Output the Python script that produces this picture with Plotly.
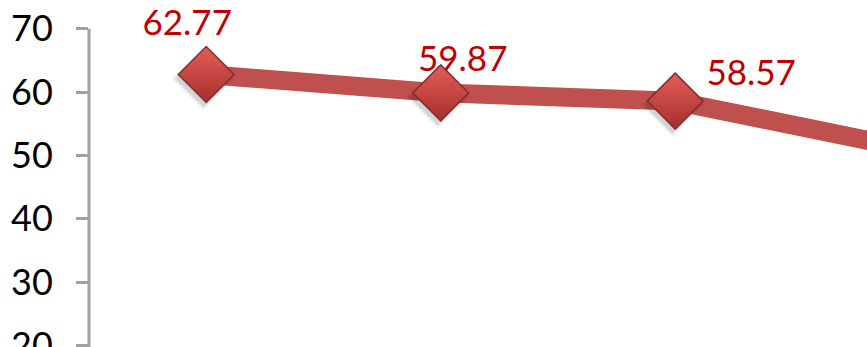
import plotly.graph_objects as go

# Series data
categories = ["A", "B", "C", "D"]
values = [62.77, 59.87, 58.57, 51.03]

# Value labels for the points inside the view, and their placement
# relative to each point in pixels (right, up)
n_labelled = 3
labels = [f"{v:.2f}" for v in values[:n_labelled]]
label_dx_px = [-19, 22, 76]
label_dy_px = [48, 31, 25]

# Axis scale
y_ticks = [20, 30, 40, 50, 60, 70]
y_axis_top = 70

W, H = 867, 347
M_L, M_R, M_T, M_B = 89, 0, 0, 0
x_range = [-0.5, 2.818]
y_range = [19.76, 74.53]

plot_w = W - M_L - M_R
plot_h = H - M_T - M_B
px_per_x = plot_w / (x_range[1] - x_range[0])
px_per_y = plot_h / (y_range[1] - y_range[0])

xs = list(range(len(categories)))
label_x = [x + dx / px_per_x for x, dx in zip(xs, label_dx_px)]
label_y = [v + dy / px_per_y for v, dy in zip(values, label_dy_px)]

LINE_RED = "#C0504D"
AXIS_GREY = "#A0A0A0"
FONT = "Lato"

fig = go.Figure()

# Thick connecting line
fig.add_trace(go.Scatter(
    x=xs, y=values, mode="lines",
    line=dict(color=LINE_RED, width=19),
    cliponaxis=False, hoverinfo="skip", showlegend=False,
))

# Value labels (drawn beneath the markers)
fig.add_trace(go.Scatter(
    x=label_x, y=label_y, mode="text", text=labels,
    textposition="middle center",
    textfont=dict(family=FONT, size=35, color="#C00000"),
    cliponaxis=False, hoverinfo="skip", showlegend=False,
))

# Soft shadow under the markers
for size, alpha in [(49, 0.04), (46, 0.06), (43, 0.08)]:
    fig.add_trace(go.Scatter(
        x=[x - 3 / px_per_x for x in xs], y=[v - 4 / px_per_y for v in values],
        mode="markers",
        marker=dict(symbol="diamond", size=size, color=f"rgba(0,0,0,{alpha})", line=dict(width=0)),
        cliponaxis=False, hoverinfo="skip", showlegend=False,
    ))

# Bevelled diamond markers
fig.add_trace(go.Scatter(
    x=xs, y=values, mode="markers", text=categories,
    marker=dict(
        symbol="diamond", size=43, color="#E45D59",
        gradient=dict(type="vertical", color="#A52F2B"),
        line=dict(color="#85302E", width=1.5),
    ),
    cliponaxis=False, showlegend=False,
))

# Value axis line, running from the bottom up to the top tick
fig.add_shape(
    type="line", xref="paper", yref="y",
    x0=0, x1=0, y0=y_range[0], y1=y_axis_top,
    line=dict(color=AXIS_GREY, width=3),
)

fig.update_layout(
    width=W, height=H,
    margin=dict(l=M_L, r=M_R, t=M_T, b=M_B, pad=0, autoexpand=False),
    paper_bgcolor="white", plot_bgcolor="white",
    xaxis=dict(range=x_range, visible=False, showgrid=False, zeroline=False,
               automargin=False),
    yaxis=dict(
        range=y_range, tickmode="array", tickvals=y_ticks,
        showgrid=False, zeroline=False, showline=False, automargin=False,
        ticks="outside", ticklen=12, tickwidth=3, tickcolor=AXIS_GREY,
        ticklabelstandoff=16, ticklabeloverflow="allow",
        tickfont=dict(family=FONT, size=36, color="black"),
    ),
)

fig.write_html("out.html")
